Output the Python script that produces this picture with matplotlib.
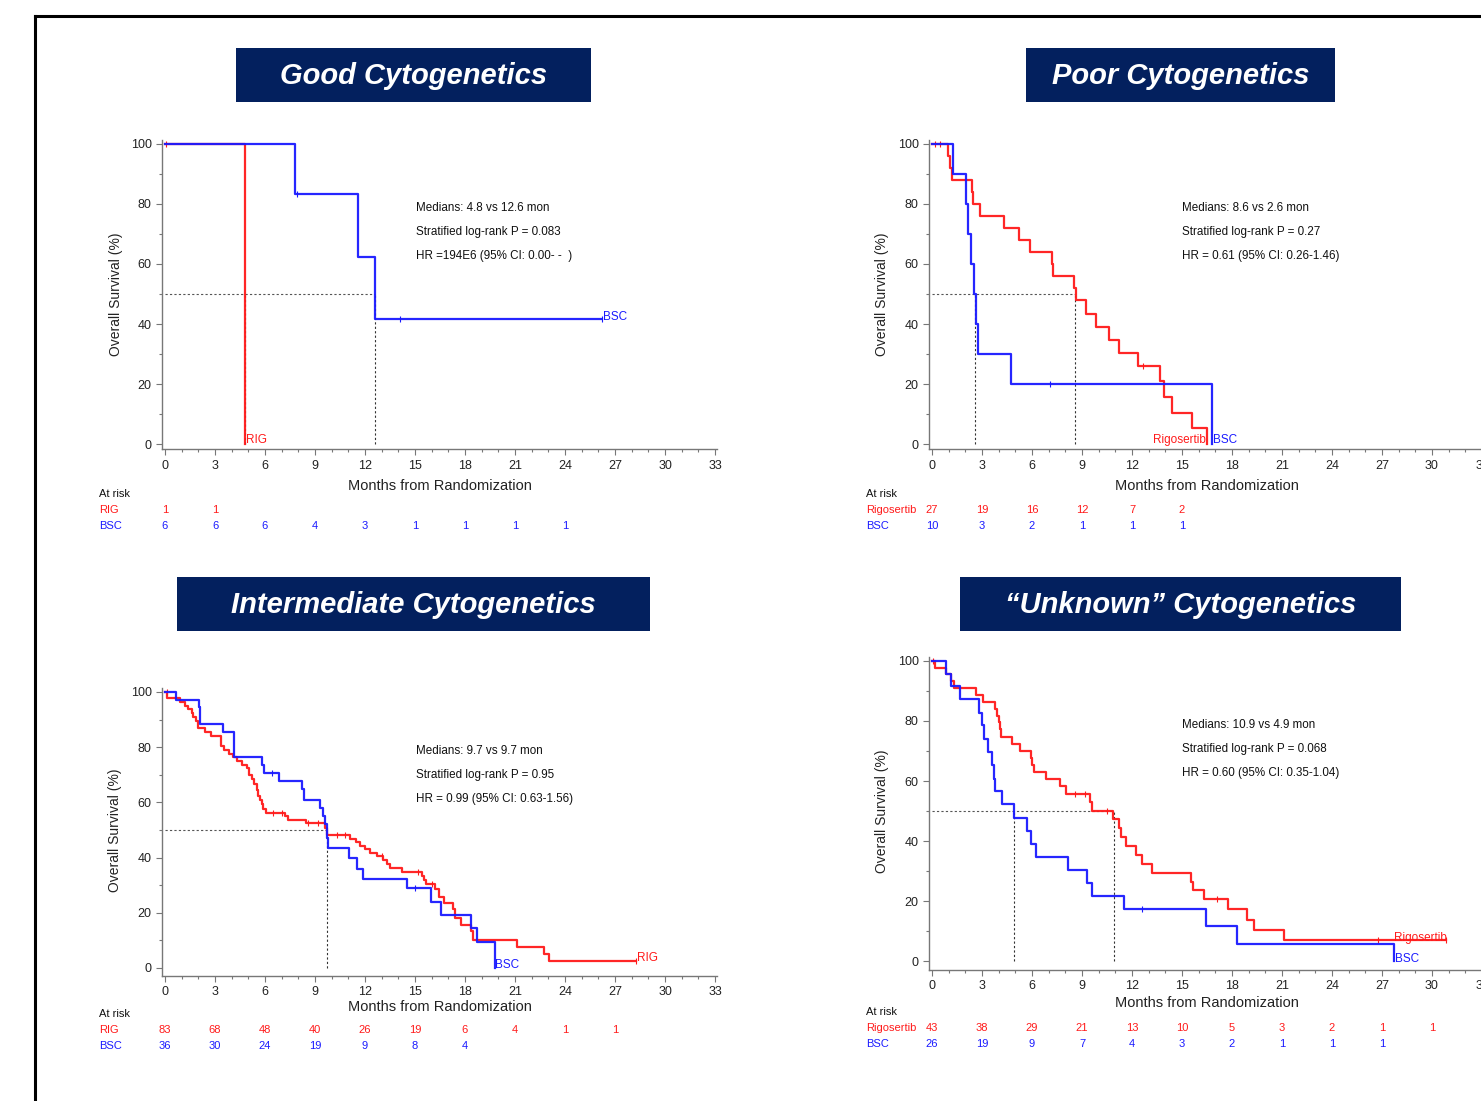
import numpy as np
import matplotlib
matplotlib.use("Agg")
import matplotlib.pyplot as plt
from matplotlib.patches import Rectangle
from matplotlib.lines import Line2D

plt.rcParams['font.family'] = ['Liberation Sans', 'DejaVu Sans']

W, H = 1481, 1101
RED = '#ff1a1a'
BLUE = '#1a1aff'
NAVY = '#03205e'

# ---- data ----
months = [0, 3, 6, 9, 12, 15, 18, 21, 24, 27, 30, 33]

good_rig_t = [0, 4.8]
good_rig_s = [100, 0]
good_bsc_t = [0, 7.8, 11.6, 12.6, 26.2]
good_bsc_s = [100, 83.3, 62.5, 41.7, 41.7]
good_bsc_cens = [7.9, 14.1, 26.2]
good_rig_risk = [1, 1]
good_bsc_risk = [6, 6, 6, 4, 3, 1, 1, 1, 1]

poor_rig_t = [0, 0.98, 1.08, 1.18, 2.38, 2.48, 2.88, 4.32, 5.22, 5.88, 7.22, 7.26,
              8.52, 8.64, 9.22, 9.82, 10.62, 11.2, 12.38, 13.68, 13.92, 14.38, 15.6, 16.48]
poor_rig_s = [100, 96, 92, 88, 84, 80, 76, 72, 68, 64, 60, 56,
              52, 48, 43.5, 39, 34.8, 30.4, 26, 21, 15.6, 10.4, 5.2, 0]
poor_bsc_t = [0, 1.28, 2.04, 2.18, 2.34, 2.52, 2.64, 2.76, 4.72, 16.82]
poor_bsc_s = [100, 90, 80, 70, 60, 50, 40, 30, 20, 0]
poor_rig_cens = [0.2, 0.45, 12.68]
poor_bsc_cens = [7.08]
poor_rig_risk = [27, 19, 16, 12, 7, 2]
poor_bsc_risk = [10, 3, 2, 1, 1, 1]

int_rig_t = [0, 0.14, 0.9, 1.2, 1.4, 1.6, 1.7, 1.86, 2.0, 2.4, 2.76, 3.36, 3.54, 3.84,
             4.06, 4.34, 4.6, 4.9, 5.04, 5.2, 5.36, 5.5, 5.58, 5.7, 5.8, 5.9, 6.04, 7.2,
             7.4, 8.44, 9.6, 9.7, 11.1, 11.44, 11.7, 12.0, 12.3, 12.7, 13.1, 13.3, 13.5,
             14.24, 15.4, 15.54, 15.66, 16.22, 16.42, 16.74, 17.3, 17.4, 17.74, 18.34,
             18.5, 21.14, 22.76, 23.06, 28.26]
int_rig_s = [100, 97.7, 96.5, 95, 93.8, 92.5, 91, 89.5, 86.8, 85.5, 84, 80.5, 79, 77.7,
             76.3, 75, 73.7, 72.5, 70, 68.5, 66.6, 64.5, 62.5, 61, 59.5, 57.5, 56, 54.9,
             53.7, 52.4, 50.8, 48.3, 46.9, 45.6, 44.3, 43.1, 41.8, 40.6, 39, 37.7, 36.2,
             34.8, 33.2, 31.8, 30.3, 28.8, 25.7, 23.5, 21.5, 18.1, 15.7, 13.3,
             10.1, 7.7, 5.1, 2.5, 2.5]
int_bsc_t = [0, 0.66, 2.06, 2.1, 3.48, 4.16, 5.82, 5.96, 6.82, 8.24, 8.34, 9.3, 9.46,
             9.6, 9.7, 9.76, 11.04, 11.5, 11.86, 14.52, 15.96, 16.58, 18.34, 18.74, 19.78]
int_bsc_s = [100, 97.2, 94.4, 88.3, 85.4, 76.4, 73.5, 70.6, 67.6, 64.7, 61, 58, 55,
             52, 47, 43.5, 39.8, 36, 32.3, 28.9, 24, 19.2, 14.5, 9.6, 0]
int_rig_cens = [0.1, 6.5, 7.0, 8.6, 9.2, 10.3, 10.8, 13.0, 15.2, 16.0, 28.26]
int_bsc_cens = [6.4, 15.0]
int_rig_risk = [83, 68, 48, 40, 26, 19, 6, 4, 1, 1]
int_bsc_risk = [36, 30, 24, 19, 9, 8, 4]

unk_rig_t = [0, 0.17, 0.81, 1.14, 1.29, 2.61, 3.06, 3.75, 3.9, 3.99, 4.07, 4.16, 4.82,
             5.25, 5.91, 6.02, 6.13, 6.86, 7.65, 8.06, 9.49, 9.6, 10.84, 11.23, 11.32,
             11.61, 12.21, 12.6, 13.2, 15.54, 15.64, 16.29, 17.74, 18.9, 19.33, 21.15, 30.86]
unk_rig_s = [100, 97.8, 95.6, 93.2, 90.9, 88.6, 86.3, 84, 81.8, 79.5, 77.2, 74.5, 72.3,
             70, 67.7, 65.2, 63, 60.6, 58.2, 55.6, 53, 50, 47.4, 44.3, 41.3,
             38.3, 35.2, 32.3, 29.2, 26.5, 23.6, 20.6, 17.2, 13.8, 10.3, 6.9, 6.9]
unk_bsc_t = [0, 0.81, 1.14, 1.65, 2.83, 3.0, 3.13, 3.34, 3.6, 3.7, 3.77, 4.18, 4.93,
             5.68, 5.94, 6.26, 8.14, 9.32, 9.58, 11.5, 16.46, 18.32, 27.75]
unk_bsc_s = [100, 95.8, 91.5, 87.2, 82.8, 78.5, 74, 69.6, 65.2, 60.8, 56.5, 52.2, 47.8,
             43.4, 39.1, 34.8, 30.4, 26, 21.7, 17.4, 11.6, 5.8, 0]
unk_rig_cens = [0.05, 8.6, 9.2, 10.5, 17.1, 26.74, 30.86]
unk_bsc_cens = [12.58]
unk_rig_risk = [43, 38, 29, 21, 13, 10, 5, 3, 2, 1, 1]
unk_bsc_risk = [26, 19, 9, 7, 4, 3, 2, 1, 1, 1]


def fx(px):
    return px / W


def fy(py):
    return 1 - py / H


fig = plt.figure(figsize=(W / 100, H / 100), dpi=100)
fig.patch.set_facecolor('white')

# outer frame
fig.add_artist(Line2D([fx(35), fx(1481)], [fy(16), fy(16)], color='black', lw=2.2))
fig.add_artist(Line2D([fx(35), fx(35)], [fy(16), fy(1101)], color='black', lw=2.2))


def title_box(x0, x1, y0, y1, text):
    fig.add_artist(Rectangle((fx(x0), fy(y1)), fx(x1) - fx(x0), fy(y0) - fy(y1),
                             transform=fig.transFigure, facecolor=NAVY, edgecolor='none'))
    fig.text(fx((x0 + x1) / 2), fy((y0 + y1) / 2 + 1), text, color='white', fontsize=21,
             fontweight='bold', fontstyle='italic', ha='center', va='center')


def km(ax, t, s, color, cens):
    ax.step(t, s, where='post', color=color, lw=1.6, alpha=0.95)
    t = np.array(t)
    s = np.array(s)
    cs = [s[np.searchsorted(t, c, side='right') - 1] for c in cens]
    ax.plot(cens, cs, ls='none', marker='|', ms=4, mew=0.8, color=color)


def panel(ox, oy, sy, ylo, yhi, curves, medians, notes, note_xy, risk, risk_y,
          xlabel_y, ylabel_x):
    sx = 50 / 3.0
    xlo, xhi = -0.18, 33.1
    left = ox + xlo * sx
    right = ox + xhi * sx
    top = oy - yhi * sy
    bottom = oy - ylo * sy
    ax = fig.add_axes([fx(left), fy(bottom), fx(right) - fx(left), fy(top) - fy(bottom)])
    ax.set_xlim(xlo, xhi)
    ax.set_ylim(ylo, yhi)
    for sp in ['top', 'right']:
        ax.spines[sp].set_visible(False)
    for sp in ['left', 'bottom']:
        ax.spines[sp].set_color('#777777')
        ax.spines[sp].set_linewidth(1.0)
    ax.set_xticks(months)
    ax.set_xticks(np.arange(0, 34, 1), minor=True)
    ax.set_yticks([0, 20, 40, 60, 80, 100])
    ax.set_yticks(np.arange(10, 100, 20), minor=True)
    ax.tick_params(axis='both', which='major', labelsize=9, color='#777777',
                   labelcolor='#222222', length=4, width=0.8)
    ax.tick_params(axis='both', which='minor', color='#777777', length=2.5, width=0.8)
    ax.patch.set_alpha(0)

    # median reference lines
    mx = max(m for m in medians)
    ax.plot([0, mx], [50, 50], ls=(0, (2, 2)), color='#555555', lw=0.8)
    for m in medians:
        ax.plot([m, m], [0, 50], ls=(0, (2, 2)), color='#333333', lw=0.8)

    for t, s, color, cens, lab, lx, ly, lha in curves:
        km(ax, t, s, color, cens)
        ax.text(lx, ly, lab, color=color, fontsize=8.5, ha=lha, va='bottom')

    nx, ny = note_xy
    for i, n in enumerate(notes):
        fig.text(fx(nx), fy(ny + 24 * i), n, fontsize=8.4, color='#111111', va='center')

    fig.text(fx(ox + 16.5 * sx), fy(xlabel_y), 'Months from Randomization', fontsize=10.5,
             color='#222222', ha='center', va='center')
    fig.text(fx(ylabel_x), fy(oy - 50 * sy), 'Overall Survival (%)', fontsize=10,
             color='#222222', rotation=90, ha='center', va='center')

    lab_x = ox - 66
    fig.text(fx(lab_x), fy(risk_y), 'At risk', fontsize=8, color='#111111', va='center')
    for k, (name, vals, color) in enumerate(risk):
        yy = risk_y + 16 * (k + 1)
        fig.text(fx(lab_x), fy(yy), name, fontsize=8, color=color, va='center')
        for i, v in enumerate(vals):
            fig.text(fx(ox + months[i] * sx), fy(yy), str(v), fontsize=8, color=color,
                     ha='center', va='center')
    return ax


title_box(236, 591, 48, 102, 'Good Cytogenetics')
title_box(1026, 1335, 48, 102, 'Poor Cytogenetics')
title_box(177, 650, 577, 631, 'Intermediate Cytogenetics')
title_box(960, 1401, 577, 631, '\u201cUnknown\u201d Cytogenetics')

panel(165, 444, 3.0, -1.7, 101.3,
      [(good_rig_t, good_rig_s, RED, [0.05], 'RIG', 4.85, -0.5, 'left'),
       (good_bsc_t, good_bsc_s, BLUE, good_bsc_cens, 'BSC', 26.25, 40.5, 'left')],
      [4.8, 12.6],
      ['Medians: 4.8 vs 12.6 mon', 'Stratified log-rank P = 0.083',
       'HR =194E6 (95% CI: 0.00- -  )'], (416, 208),
      [('RIG', good_rig_risk, RED), ('BSC', good_bsc_risk, BLUE)], 494, 486, 116)

panel(932, 444, 3.0, -1.7, 101.3,
      [(poor_rig_t, poor_rig_s, RED, poor_rig_cens, 'Rigosertib', 16.45, -0.5, 'right'),
       (poor_bsc_t, poor_bsc_s, BLUE, poor_bsc_cens, 'BSC', 16.85, -0.5, 'left')],
      [2.6, 8.6],
      ['Medians: 8.6 vs 2.6 mon', 'Stratified log-rank P = 0.27',
       'HR = 0.61 (95% CI: 0.26-1.46)'], (1182, 208),
      [('Rigosertib', poor_rig_risk, RED), ('BSC', poor_bsc_risk, BLUE)], 494, 486, 882)

panel(165, 968, 2.76, -2.9, 101.4,
      [(int_rig_t, int_rig_s, RED, int_rig_cens, 'RIG', 28.3, 1.5, 'left'),
       (int_bsc_t, int_bsc_s, BLUE, int_bsc_cens, 'BSC', 19.8, -1.0, 'left')],
      [9.7],
      ['Medians: 9.7 vs 9.7 mon', 'Stratified log-rank P = 0.95',
       'HR = 0.99 (95% CI: 0.63-1.56)'], (416, 751),
      [('RIG', int_rig_risk, RED), ('BSC', int_bsc_risk, BLUE)], 1014, 1007, 115)

panel(932, 961, 3.0, -3.0, 101.3,
      [(unk_rig_t, unk_rig_s, RED, unk_rig_cens, 'Rigosertib', 27.75, 5.6, 'left'),
       (unk_bsc_t, unk_bsc_s, BLUE, unk_bsc_cens, 'BSC', 27.8, -1.2, 'left')],
      [4.9, 10.9],
      ['Medians: 10.9 vs 4.9 mon', 'Stratified log-rank P = 0.068',
       'HR = 0.60 (95% CI: 0.35-1.04)'], (1182, 725),
      [('Rigosertib', unk_rig_risk, RED), ('BSC', unk_bsc_risk, BLUE)], 1012, 1003, 882)

fig.savefig('out.png', dpi=100)
